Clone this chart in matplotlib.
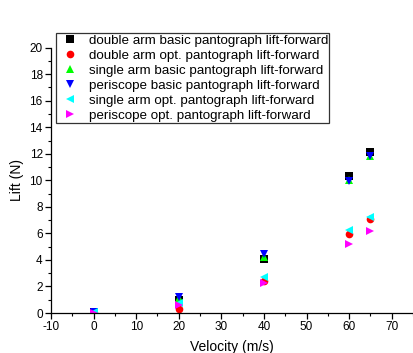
import matplotlib
matplotlib.use("Agg")
import matplotlib.pyplot as plt
from matplotlib.ticker import MultipleLocator

plt.rcParams['font.family'] = ['Liberation Sans', 'DejaVu Sans']
plt.rcParams['axes.unicode_minus'] = False

# ---------------------------------------------------------------------------
# Data
# ---------------------------------------------------------------------------
velocity = [0, 20, 40, 60, 65]

double_basic = [0.05, 1.0, 4.1, 10.3, 12.15]
double_opt = [0.0, 0.28, 2.41, 5.93, 7.08]
single_basic = [0.05, 1.1, 4.25, 10.0, 11.8]
periscope_basic = [0.05, 1.23, 4.42, 9.95, 11.83]
single_opt = [0.05, 0.73, 2.74, 6.25, 7.2]
periscope_opt = [0.0, 0.6, 2.24, 5.22, 6.18]

series = [
    ('double arm basic pantograph lift-forward', double_basic, 's', '#000000'),
    ('double arm opt. pantograph lift-forward', double_opt, 'o', '#ff0000'),
    ('single arm basic pantograph lift-forward', single_basic, '^', '#00ff00'),
    ('periscope basic pantograph lift-forward', periscope_basic, 'v', '#0000ff'),
    ('single arm opt. pantograph lift-forward', single_opt, '<', '#00ffff'),
    ('periscope opt. pantograph lift-forward', periscope_opt, '>', '#ff00ff'),
]

# ---------------------------------------------------------------------------
# Figure
# ---------------------------------------------------------------------------
fig = plt.figure(figsize=(4.13, 3.53), dpi=100)
ax = fig.add_axes([0.1235, 0.1133, 0.8765, 0.7516])

for label, vals, marker, color in series:
    ax.plot(velocity, vals, linestyle='none', marker=marker, color=color,
            markersize=5.5, markeredgewidth=0, label=label)

ax.set_xlim(-10, 75)
ax.set_ylim(0, 20)
ax.xaxis.set_major_locator(MultipleLocator(10))
ax.xaxis.set_minor_locator(MultipleLocator(5))
ax.yaxis.set_major_locator(MultipleLocator(2))
ax.yaxis.set_minor_locator(MultipleLocator(1))

for side in ('top', 'right'):
    ax.spines[side].set_visible(False)
for side in ('left', 'bottom'):
    ax.spines[side].set_linewidth(0.9)

ax.tick_params(which='major', direction='out', length=4, width=0.9, labelsize=8.5, pad=2)
ax.tick_params(which='minor', direction='out', length=2.5, width=0.8)

ax.set_xlabel('Velocity (m/s)', fontsize=10, labelpad=5)
ax.set_ylabel('Lift (N)', fontsize=10, labelpad=4)

leg = ax.legend(loc='upper left', bbox_to_anchor=(56 / 413, 1 - 33 / 353),
                bbox_transform=fig.transFigure, fontsize=9.6, frameon=True,
                fancybox=False, borderpad=0.1, labelspacing=0.2,
                handlelength=1.9, handletextpad=0.45, borderaxespad=0,
                markerscale=1.0)
leg.get_frame().set_edgecolor('black')
leg.get_frame().set_linewidth(0.9)

fig.savefig('out.png', dpi=100)
